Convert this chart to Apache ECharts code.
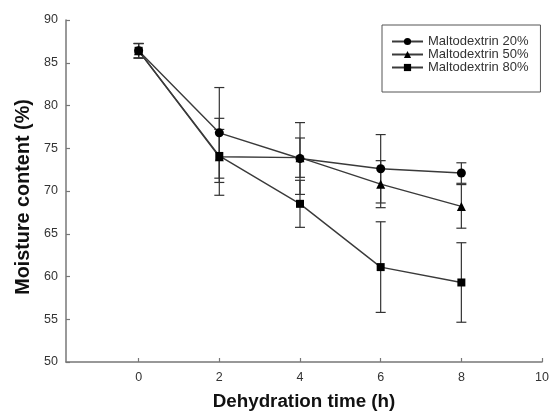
<!DOCTYPE html>
<html>
<head>
<meta charset="utf-8">
<script src="https://cdn.jsdelivr.net/npm/echarts@6/dist/echarts.min.js"></script>
<style>
html,body{margin:0;padding:0;background:#fff;}
#c{width:552px;height:416px;}
</style>
</head>
<body>
<div id="c"></div>
<script>
const times = [0, 2, 4, 6, 8];
const xTicks = [0, 2, 4, 6, 8, 10];
const names = ['Maltodextrin 20%', 'Maltodextrin 50%', 'Maltodextrin 80%'];
const mean20 = [86.4, 76.8, 73.8, 72.6, 72.1];
const err20  = [0.85, 5.3, 4.2, 4.0, 1.2];
const mean50 = [86.4, 74.0, 73.9, 70.8, 68.2];
const err50  = [0.85, 4.5, 2.3, 2.75, 2.55];
const mean80 = [86.4, 74.1, 68.5, 61.1, 59.3];
const err80  = [0.85, 3.1, 2.75, 5.3, 4.65];

const FONT = 'Arial, "Liberation Sans", Helvetica, sans-serif';
const means = [mean20, mean50, mean80];
const errs = [err20, err50, err80];
const symbols = ['circle', 'triangle', 'rect'];
const symSizes = [9, 9, 8];

function renderErr(params, api) {
  const x = api.value(0), lo = api.value(1), hi = api.value(2);
  const a = api.coord([x, hi]), b = api.coord([x, lo]);
  const w = 5;
  const st = {stroke: '#333', lineWidth: 1.2};
  return {type: 'group', children: [
    {type: 'line', shape: {x1: a[0], y1: a[1], x2: b[0], y2: b[1]}, style: st},
    {type: 'line', shape: {x1: a[0] - w, y1: a[1], x2: a[0] + w, y2: a[1]}, style: st},
    {type: 'line', shape: {x1: b[0] - w, y1: b[1], x2: b[0] + w, y2: b[1]}, style: st}
  ]};
}

const series = [];
means.forEach((m, k) => {
  series.push({
    name: 'err' + k,
    type: 'custom',
    renderItem: renderErr,
    encode: {x: 0, y: [1, 2]},
    data: times.map((t, i) => [t, m[i] - errs[k][i], m[i] + errs[k][i]]),
    z: 2,
    silent: true
  });
});
means.forEach((m, k) => {
  series.push({
    name: names[k],
    type: 'line',
    data: times.map((t, i) => [t, m[i]]),
    symbol: symbols[k],
    symbolSize: symSizes[k],
    showAllSymbol: true,
    lineStyle: {color: '#3a3a3a', width: 1.4},
    itemStyle: {color: '#000', borderWidth: 0},
    z: 3
  });
});

const chart = echarts.init(document.getElementById('c'), null, {renderer: 'canvas'});
chart.setOption({
  animation: false,
  backgroundColor: '#fff',
  grid: {left: 66, right: 3, top: 20, bottom: 50, containLabel: false},
  legend: {
    data: names,
    orient: 'vertical',
    left: 382,
    top: 25,
    padding: [10, 12, 18, 9],
    itemGap: 0,
    itemWidth: 31,
    itemHeight: 9,
    borderColor: '#555',
    borderWidth: 1,
    textStyle: {fontFamily: FONT, fontSize: 13, color: '#333', lineHeight: 12.3}
  },
  xAxis: {
    type: 'value',
    min: -1.8,
    max: 10,
    name: 'Dehydration time (h)',
    nameLocation: 'middle',
    nameGap: 30,
    nameTextStyle: {fontFamily: FONT, fontSize: 18.8, fontWeight: 'bold', color: '#111'},
    axisLine: {show: true, onZero: false, lineStyle: {color: '#777', width: 1.5}},
    axisTick: {show: true, inside: true, length: 4, customValues: xTicks, lineStyle: {color: '#777', width: 1.2}},
    axisLabel: {customValues: xTicks, fontFamily: FONT, fontSize: 12.5, color: '#333', margin: 9},
    splitLine: {show: false}
  },
  yAxis: {
    type: 'value',
    min: 50,
    max: 90,
    interval: 5,
    name: 'Moisture content (%)',
    nameLocation: 'middle',
    nameGap: 32,
    nameTextStyle: {fontFamily: FONT, fontSize: 19.8, fontWeight: 'bold', color: '#111', padding: [0, 12, 0, 0]},
    axisLine: {show: true, onZero: false, lineStyle: {color: '#777', width: 1.5}},
    axisTick: {show: true, inside: true, length: 4, lineStyle: {color: '#777', width: 1.2}},
    axisLabel: {fontFamily: FONT, fontSize: 12.5, color: '#333', margin: 8},
    splitLine: {show: false}
  },
  series: series
});
</script>
</body>
</html>
